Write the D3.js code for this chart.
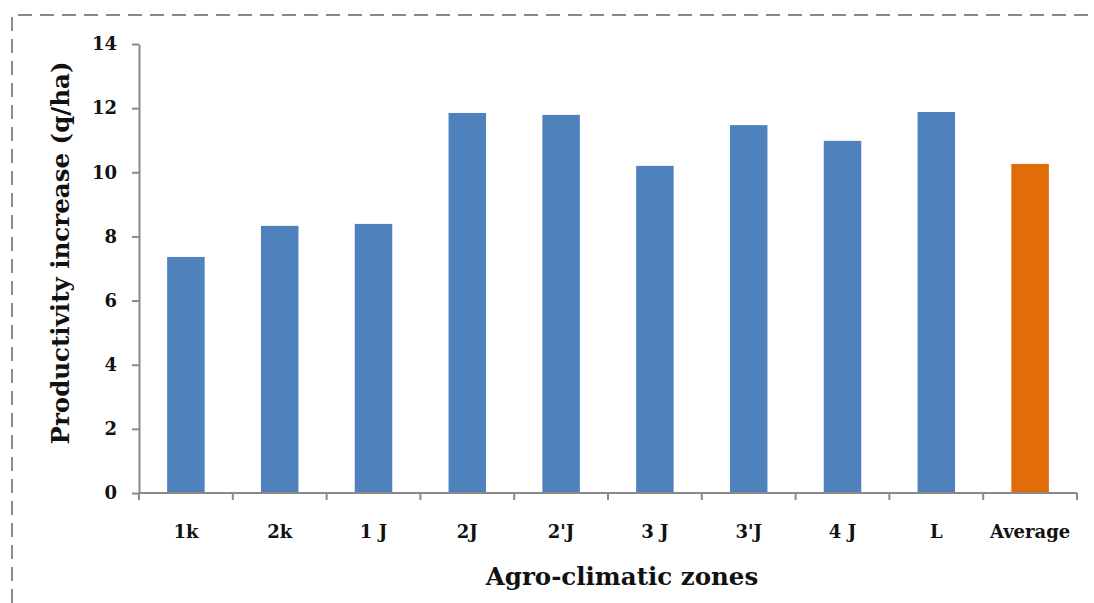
<!DOCTYPE html>
<html>
<head>
<meta charset="utf-8">
<script src="https://cdn.jsdelivr.net/npm/d3@7"></script>
<style>
  body { margin: 0; background: #fff; }
  svg text { font-family: 'DejaVu Serif', 'Liberation Serif', serif; font-weight: bold; fill: #111; }
</style>
</head>
<body>
<div id="chart"></div>
<script>
// zones on the x axis and productivity increase in q/ha
const zones = ['1k', '2k', '1 J', '2J', "2'J", '3 J', "3'J", '4 J', 'L', 'Average'];
const increase = [7.36, 8.33, 8.39, 11.85, 11.79, 10.2, 11.47, 10.98, 11.88, 10.26];
const yTicks = [0, 2, 4, 6, 8, 10, 12, 14];

const width = 1094;
const height = 603;
const margin = { top: 44, right: 17, bottom: 110, left: 139 };

const svg = d3.select('#chart').append('svg')
  .attr('width', width).attr('height', height);

/// dashed frame round the chart area
svg.append('path')
  .attr('d', 'M12,' + height + ' L12,15 L' + width + ',15')
  .attr('fill', 'none')
  .attr('stroke', '#8a8a8a')
  .attr('stroke-width', 2)
  .attr('stroke-dasharray', '14,8');

const x = d3.scaleBand().domain(zones)
  .range([margin.left, width - margin.right])
  .paddingInner(0.6).paddingOuter(0.3);

const y = d3.scaleLinear().domain([0, 14])
  .range([height - margin.bottom, margin.top]);

/// bars
svg.append('g').selectAll('rect')
  .data(zones)
  .enter().append('rect')
  .attr('x', function(d) { return x(d); })
  .attr('y', function(d, i) { return y(increase[i]); })
  .attr('width', x.bandwidth())
  .attr('height', function(d, i) { return y(0) - y(increase[i]); })
  .attr('fill', function(d) { return d === 'Average' ? '#e36c0a' : '#4f81bd'; });

/// y axis
const yAxis = svg.append('g')
  .attr('transform', 'translate(' + margin.left + ',0)')
  .call(d3.axisLeft(y).tickValues(yTicks).tickSize(7).tickPadding(15).tickSizeOuter(0));
yAxis.selectAll('text').style('font-size', '18px');

/// x axis, ticks on the category boundaries
const xAxis = svg.append('g')
  .attr('transform', 'translate(0,' + y(0) + ')');
xAxis.append('line')
  .attr('x1', margin.left).attr('x2', width - margin.right)
  .attr('stroke', '#8a8a8a').attr('stroke-width', 2);
const step = x.step();
const bounds = d3.range(zones.length + 1).map(function(i) { return margin.left + i * step; });
xAxis.selectAll('.tick-line')
  .data(bounds)
  .enter().append('line')
  .attr('x1', function(d) { return d; }).attr('x2', function(d) { return d; })
  .attr('y1', 0).attr('y2', 7)
  .attr('stroke', '#8a8a8a').attr('stroke-width', 2);
xAxis.selectAll('.label')
  .data(zones)
  .enter().append('text')
  .attr('x', function(d) { return x(d) + x.bandwidth() / 2; })
  .attr('y', 45)
  .attr('text-anchor', 'middle')
  .style('font-size', '18px')
  .text(function(d) { return d; });

yAxis.selectAll('line').attr('stroke', '#8a8a8a').attr('stroke-width', 2);
yAxis.select('.domain').attr('stroke', '#8a8a8a').attr('stroke-width', 2);

/// axis titles
svg.append('text')
  .attr('x', 622)
  .attr('y', 585)
  .attr('text-anchor', 'middle')
  .style('font-size', '24.5px')
  .text('Agro-climatic zones');

svg.append('text')
  .attr('transform', 'translate(69,' + 253 + ') rotate(-90)')
  .attr('text-anchor', 'middle')
  .style('font-size', '24.5px')
  .text('Productivity increase (q/ha)');
</script>
</body>
</html>
